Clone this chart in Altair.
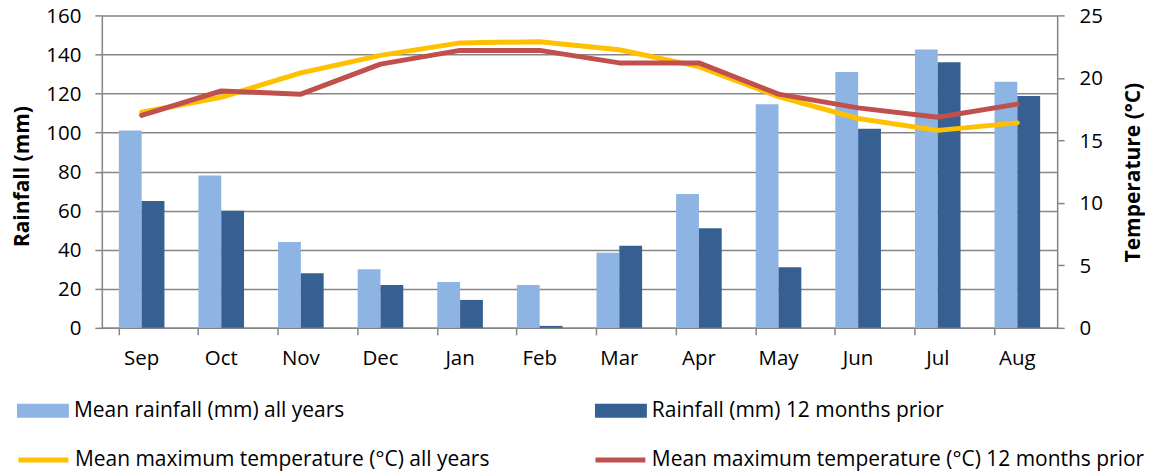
import altair as alt
import pandas as pd

months = ["Sep", "Oct", "Nov", "Dec", "Jan", "Feb", "Mar", "Apr", "May", "Jun", "Jul", "Aug"]
mean_rain = [101, 78, 44, 30, 23.5, 22, 38.5, 68.5, 114.5, 131, 142.5, 126]
rain_prior = [65, 60, 28, 22, 14.3, 1, 42, 51, 31, 102, 136, 118.7]
mean_tmax = [17.25, 18.45, 20.4, 21.8, 22.8, 22.9, 22.25, 20.9, 18.5, 16.75, 15.8, 16.4]
tmax_prior = [17.0, 18.95, 18.7, 21.1, 22.2, 22.2, 21.2, 21.2, 18.7, 17.6, 16.85, 17.9]
rain_ticks = [0, 20, 40, 60, 80, 100, 120, 140, 160]
temp_ticks = [0, 5, 10, 15, 20, 25]

S1 = "Mean rainfall (mm) all years"
S2 = "Rainfall (mm) 12 months prior"
S3 = "Mean maximum temperature (°C) all years"
S4 = "Mean maximum temperature (°C) 12 months prior"

C1, C2, C3, C4 = "#8db4e2", "#376092", "#ffc000", "#c0504d"

df = pd.DataFrame({
    "month": months,
    "mean_rain": mean_rain,
    "rain_prior": rain_prior,
    "mean_tmax": mean_tmax,
    "tmax_prior": tmax_prior,
})

FONT = "Open Sans"
FS = 20.5
LFS = 21
GRAY = "#868686"

x_enc = alt.X(
    "month:N", sort=months, title=None,
    scale=alt.Scale(paddingInner=0.427, paddingOuter=0.2135),
    axis=alt.Axis(bandPosition=0, tickSize=7, tickColor=GRAY, tickWidth=1.5,
                  domainColor=GRAY, domainWidth=1.5, grid=False,
                  labelFontSize=FS, labelFont=FONT, labelColor="#000",
                  labelPadding=14, labelAngle=0),
)

xoff = alt.XOffset("series:N", scale=alt.Scale(domain=[S1, S2], paddingInner=0, paddingOuter=0))

rain_axis = alt.Axis(
    values=rain_ticks, grid=True, gridColor=GRAY, gridWidth=1.5,
    tickSize=7, tickColor=GRAY, tickWidth=1.5, domainColor=GRAY, domainWidth=1.5,
    labelFontSize=FS, labelFont=FONT, labelColor="#000", labelPadding=14,
    labelOverlap=False, labelOffset=1,
    title="Rainfall (mm)", titleFont=FONT, titleFontSize=21, titleFontWeight="bold",
    titleColor="#000", titleAngle=270, titleX=-90, titleY=161,
    titleAlign="center", titleBaseline="top", orient="left",
)

temp_axis = alt.Axis(
    values=temp_ticks, grid=False,
    tickSize=7, tickColor=GRAY, tickWidth=1.5, domainColor=GRAY, domainWidth=1.5,
    labelFontSize=FS, labelFont=FONT, labelColor="#000", labelPadding=15,
    labelOverlap=False, labelOffset=1,
    title="Temperature (°C)", titleFont=FONT, titleFontSize=21, titleFontWeight="bold",
    titleColor="#000", titleAngle=270, titleX=65, titleY=157,
    titleAlign="center", titleBaseline="top", orient="right",
)

RECT = "M-1,-0.27H1V0.27H-1Z"

def bar_legend(lx, ly):
    return alt.Legend(title=None, orient="none", legendX=lx, legendY=ly,
                      symbolType=RECT, symbolSize=2704, symbolStrokeWidth=0,
                      labelFontSize=LFS, labelFont=FONT, labelColor="#000",
                      labelOffset=5, labelLimit=1000, padding=0)

def line_legend(lx, ly):
    return alt.Legend(title=None, orient="none", legendX=lx, legendY=ly,
                      symbolType="stroke", symbolSize=2500, symbolStrokeWidth=5,
                      labelFontSize=LFS, labelFont=FONT, labelColor="#000",
                      labelOffset=4, labelLimit=1000, padding=0)

rain_scale = alt.Scale(domain=[0, 160], nice=False)
temp_scale = alt.Scale(domain=[0, 25], nice=False)

base = alt.Chart(df)

bar1 = base.transform_calculate(series=f"'{S1}'").mark_bar().encode(
    x=x_enc, xOffset=xoff,
    y=alt.Y("mean_rain:Q", scale=rain_scale, axis=rain_axis),
    fill=alt.Fill("series:N", scale=alt.Scale(domain=[S1], range=[C1]), legend=bar_legend(-85, 370)),
)
bar2 = base.transform_calculate(series=f"'{S2}'").mark_bar().encode(
    x=x_enc, xOffset=xoff,
    y=alt.Y("rain_prior:Q", scale=rain_scale, axis=rain_axis),
    fill=alt.Fill("series:N", scale=alt.Scale(domain=[S2], range=[C2]), legend=bar_legend(494, 370)),
)
bars = alt.layer(bar1, bar2).resolve_scale(fill="independent")

line1 = base.transform_calculate(series=f"'{S3}'").mark_line(
    strokeWidth=5, strokeCap="round", strokeJoin="round").encode(
    x=x_enc,
    y=alt.Y("mean_tmax:Q", scale=temp_scale, axis=temp_axis),
    stroke=alt.Stroke("series:N", scale=alt.Scale(domain=[S3], range=[C3]), legend=line_legend(-86, 418)),
)
line2 = base.transform_calculate(series=f"'{S4}'").mark_line(
    strokeWidth=5, strokeCap="round", strokeJoin="round").encode(
    x=x_enc,
    y=alt.Y("tmax_prior:Q", scale=temp_scale, axis=temp_axis),
    stroke=alt.Stroke("series:N", scale=alt.Scale(domain=[S4], range=[C4]), legend=line_legend(492, 418)),
)
lines = alt.layer(line1, line2).resolve_scale(stroke="independent")

chart = alt.layer(bars, lines).resolve_scale(
    y="independent", fill="independent", stroke="independent"
).properties(
    width=957, height=313,
    autosize=alt.AutoSizeParams(type="none"),
    padding={"left": 94, "top": 7, "right": 88, "bottom": 146},
).configure_view(strokeWidth=0).configure(font=FONT, background="white")

chart.save("out.html", embed_options={"renderer": "svg", "actions": False})
